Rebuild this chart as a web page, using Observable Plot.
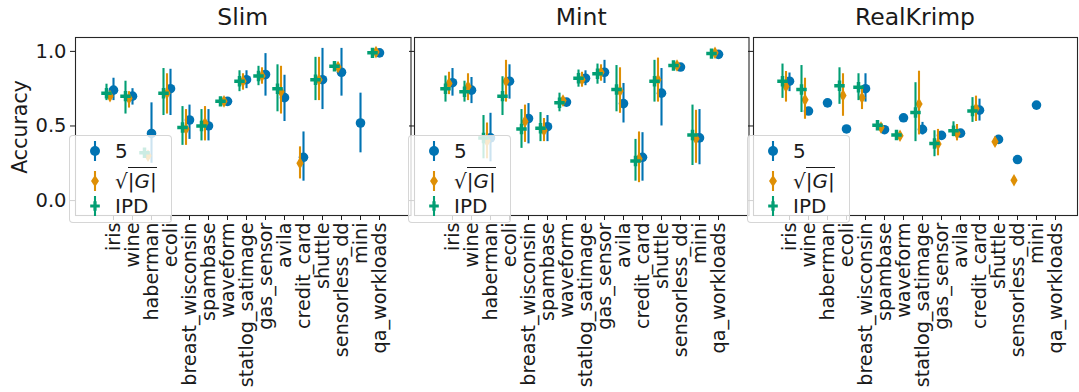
<!DOCTYPE html>
<html><head><meta charset="utf-8">
<script src="https://cdn.jsdelivr.net/npm/d3@7"></script>
<script src="https://cdn.jsdelivr.net/npm/@observablehq/plot@0.6"></script>
<style>
html,body{margin:0;padding:0;background:#fff;overflow:hidden;}
#wrap{position:relative;width:1079px;height:392px;overflow:hidden;font-family:"DejaVu Sans",sans-serif;color:#1a1a1a;}
.panel{position:absolute;top:0;}
.title{position:absolute;top:3px;font-size:23.5px;transform:translateX(-50%);white-space:nowrap;line-height:28px;}
.ylab{position:absolute;left:20px;top:127px;font-size:20.5px;transform:translate(-50%,-50%) rotate(-90deg);white-space:nowrap;}
.legend{position:absolute;top:135px;width:103px;height:88px;background:rgba(255,255,255,0.8);border:1px solid rgba(210,210,210,0.9);border-radius:4px;box-sizing:border-box;font-size:20px;}
.legend .row{position:absolute;left:0;height:24px;width:100%;}
.legend svg{position:absolute;left:14px;top:-8px;}
.legend .lt{position:absolute;left:45px;top:0;line-height:24px;white-space:nowrap;}
.ov{border-top:1.5px solid #1a1a1a;padding-top:1px;}
</style>
</head><body><div id="wrap"></div>
<script>
const cats = ["iris","wine","haberman","ecoli","breast_wisconsin","spambase","waveform","statlog_satimage","gas_sensor","avila","credit_card","shuttle","sensorless_dd","mini","qa_workloads"];
const panelNames = ["Slim","Mint","RealKrimp"];
const seriesNames = ["5","√|G|","IPD"];

// Slim
const slim5   = [0.74,0.70,0.45,0.75,0.54,0.50,0.665,0.81,0.845,0.69,0.29,0.81,0.86,0.52,0.99];
const slim5Lo = [0.67,0.64,0.25,0.57,0.41,0.40,0.645,0.75,0.70,0.53,0.13,0.61,0.70,0.32,0.98];
const slim5Hi = [0.82,0.75,0.655,0.88,0.64,0.61,0.685,0.87,0.985,0.84,0.46,1.02,1.02,0.72,1.0];
const slimS   = [0.70,0.685,0.30,0.72,0.48,0.52,0.665,0.80,0.835,0.73,0.25,0.81,0.895,null,0.995];
const slimSLo = [0.67,0.62,0.28,0.58,0.37,0.40,0.65,0.74,0.78,0.58,0.145,0.67,0.88,null,0.985];
const slimSHi = [0.73,0.73,0.32,0.85,0.61,0.63,0.68,0.85,0.89,0.90,0.36,0.96,0.91,null,1.0];
const slimI   = [0.72,0.70,0.32,0.72,0.49,0.50,0.665,0.80,0.835,0.75,null,0.81,0.90,null,0.99];
const slimILo = [0.67,0.58,0.30,0.57,0.37,0.40,0.65,0.73,0.77,0.595,null,0.67,0.89,null,0.98];
const slimIHi = [0.78,0.80,0.34,0.885,0.63,0.61,0.68,0.87,0.90,0.91,null,0.96,0.91,null,1.0];

// Mint
const mint5   = [0.79,0.74,0.42,0.80,0.55,0.495,0.66,0.82,0.86,0.65,0.29,0.72,0.895,0.42,0.98];
const mint5Lo = [0.70,0.65,0.26,0.68,0.38,0.395,0.64,0.77,0.785,0.52,0.13,0.50,0.88,0.24,0.97];
const mint5Hi = [0.885,0.825,0.585,0.91,0.65,0.57,0.68,0.87,0.94,0.785,0.455,0.885,0.91,0.61,0.99];
const mintS   = [0.785,0.765,0.40,0.80,0.53,0.47,0.67,0.81,0.86,0.735,0.28,0.81,0.905,0.415,0.99];
const mintSLo = [0.71,0.67,0.28,0.66,0.39,0.395,0.65,0.76,0.80,0.585,0.12,0.66,0.89,0.25,0.98];
const mintSHi = [0.86,0.85,0.52,0.94,0.64,0.55,0.69,0.86,0.91,0.89,0.46,0.955,0.92,0.605,1.0];
const mintI   = [0.75,0.73,0.42,0.70,0.48,0.485,0.655,0.82,0.85,0.745,0.265,0.80,0.905,0.44,0.985];
const mintILo = [0.66,0.66,0.28,0.57,0.35,0.395,0.595,0.76,0.78,0.595,0.13,0.66,0.89,0.235,0.975];
const mintIHi = [0.835,0.80,0.57,0.83,0.61,0.59,0.72,0.875,0.915,0.905,0.41,0.94,0.92,0.64,0.995];

// RealKrimp
const rk5   = [0.80,0.60,0.655,0.48,0.75,0.475,0.555,0.477,0.437,0.452,0.606,0.41,0.275,0.64,null];
const rk5Lo = [0.73,null,null,null,0.66,0.465,null,0.44,0.425,0.435,0.533,null,null,null,null];
const rk5Hi = [0.855,null,null,null,0.85,0.49,null,0.524,0.45,0.47,0.68,null,null,null,null];
const rkS   = [0.765,0.675,null,0.705,0.69,0.49,0.435,0.647,0.38,0.45,0.617,0.395,0.136,null,null];
const rkSLo = [0.66,0.545,null,0.565,0.61,0.48,0.425,0.44,0.30,0.40,0.53,null,null,null,null];
const rkSHi = [0.865,0.82,null,0.85,0.75,0.50,0.445,0.867,0.477,0.51,0.70,null,null,null,null];
const rkI   = [0.80,0.745,null,0.77,0.76,0.505,0.44,0.59,0.383,0.468,0.60,null,null,null,null];
const rkILo = [0.685,0.59,null,0.645,0.67,0.495,0.43,0.395,0.294,0.428,0.524,null,null,null,null];
const rkIHi = [0.915,0.905,null,0.89,0.85,0.515,0.45,0.79,0.468,0.528,0.69,null,null,null,null];

const colors = ["#0173b2","#de8f05","#029e73"];
const symbols = ["circle","diamond","cross"];
const radii = [4.8,3.8,4.4];
const dodge = [0,-3.5,-7];

const panelSeries = [
  [[slim5,slim5Lo,slim5Hi],[slimS,slimSLo,slimSHi],[slimI,slimILo,slimIHi]],
  [[mint5,mint5Lo,mint5Hi],[mintS,mintSLo,mintSHi],[mintI,mintILo,mintIHi]],
  [[rk5,rk5Lo,rk5Hi],[rkS,rkSLo,rkSHi],[rkI,rkILo,rkIHi]]
];

// layout of the three panels (page pixels)
const layout = [
  {L:0,   frameLeft:75,  frameRight:410.5, tick0:97.7, tick1:395},
  {L:409, frameLeft:414, frameRight:748.5, tick0:436,  tick1:733.3},
  {L:748, frameLeft:753, frameRight:1077,  tick0:772.5,tick1:1071}
];

const wrap = document.getElementById("wrap");

panelNames.forEach((name, p) => {
  const lay = layout[p];
  const width = Math.ceil(lay.frameRight - lay.L + 1);
  const marks = [];
  panelSeries[p].forEach((s, k) => {
    const [m, lo, hi] = s;
    const rows = cats.map((c, i) => ({cat: c, y: m[i], lo: lo[i], hi: hi[i]})).filter(d => d.y != null);
    const errs = rows.filter(d => d.lo != null && d.hi != null);
    marks.push(Plot.ruleX(errs, {x: "cat", y1: "lo", y2: "hi", stroke: colors[k], strokeWidth: 2.1, dx: dodge[k]}));
    marks.push(Plot.dot(rows, {x: "cat", y: "y", symbol: symbols[k], fill: colors[k], stroke: "none", r: radii[k], dx: dodge[k]}));
  });
  marks.push(Plot.axisX({tickRotate: -90, tickSize: 5, tickPadding: 2, label: null, fontSize: 19.2}));
  marks.push(Plot.axisY({ticks: [0, 0.5, 1], tickSize: 5, tickPadding: 4, label: null, fontSize: 19.5,
    tickFormat: p === 0 ? (d => d.toFixed(1)) : (() => "")}));
  marks.push(Plot.frame({stroke: "#262626", strokeWidth: 1.1}));

  const svg = Plot.plot({
    width, height: 392,
    marginLeft: lay.frameLeft - lay.L, marginRight: width - (lay.frameRight - lay.L),
    marginTop: 37, marginBottom: 177,
    x: {type: "point", domain: cats, range: [lay.tick0 - lay.L, lay.tick1 - lay.L]},
    y: {domain: [-0.1, 1.093]},
    style: {background: "none", overflow: "visible", fontFamily: "DejaVu Sans", fontSize: "19.2px", color: "#1a1a1a", maxWidth: "none"},
    marks
  });
  const div = document.createElement("div");
  div.className = "panel";
  div.style.left = lay.L + "px";
  div.style.width = width + "px";
  div.appendChild(svg);
  wrap.appendChild(div);

  const t = document.createElement("div");
  t.className = "title";
  t.style.left = ((lay.frameLeft + lay.frameRight) / 2) + "px";
  t.textContent = name;
  wrap.appendChild(t);
});

// legends (one per panel)
function legendSym(k) {
  const c = colors[k];
  let shape;
  if (k === 0) shape = `<circle cx="11" cy="20" r="5" fill="${c}"/>`;
  else if (k === 1) shape = `<path d="M11 14 L15 20 L11 26 L7 20 Z" fill="${c}"/>`;
  else shape = `<path d="M9.4 15.2 h3.2 v3.2 h3.2 v3.2 h-3.2 v3.2 h-3.2 v-3.2 h-3.2 v-3.2 h3.2 Z" fill="${c}"/>`;
  return `<svg width="22" height="40" viewBox="0 0 22 40"><line x1="11" y1="10" x2="11" y2="30" stroke="${c}" stroke-width="2.1"/>${shape}</svg>`;
}
const legendLabels = [
  "5",
  '√<span class="ov">|<i>G</i>|</span>',
  "IPD"
];
const rowTops = [3, 33, 58];
layout.forEach(lay => {
  const lg = document.createElement("div");
  lg.className = "legend";
  lg.style.left = (lay.frameLeft - 6) + "px";
  lg.innerHTML = legendLabels.map((lab, k) =>
    `<div class="row" style="top:${rowTops[k]}px">${legendSym(k)}<span class="lt">${lab}</span></div>`).join("");
  wrap.appendChild(lg);
});

const yl = document.createElement("div");
yl.className = "ylab";
yl.textContent = "Accuracy";
wrap.appendChild(yl);
</script>
</body></html>
